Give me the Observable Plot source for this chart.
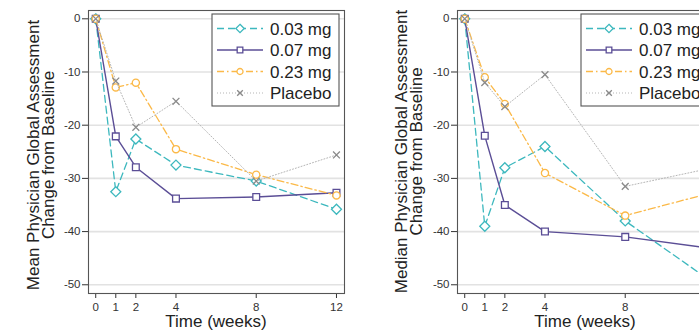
<!DOCTYPE html>
<html><head><meta charset="utf-8">
<script src="https://cdn.jsdelivr.net/npm/d3@7"></script>
<script src="https://cdn.jsdelivr.net/npm/@observablehq/plot@0.6"></script>
<style>
html,body{margin:0;padding:0;background:#fff;}
#wrap{position:relative;width:699px;height:331px;overflow:hidden;background:#fff;}
#left{position:absolute;left:0;top:0;width:350px;height:331px;}
#right{position:absolute;left:350px;top:0;width:370px;height:331px;}
#wrap svg{display:block;max-width:none !important;}
</style></head>
<body>
<div id="wrap"><div id="left"></div><div id="right"></div></div>
<script>
// ---- data ----
const weeks = [0, 1, 2, 4, 8, 12];
const xTicks = [0, 1, 2, 4, 8, 12];
const yTicks = [0, -10, -20, -30, -40, -50];
const seriesNames = ["0.03 mg", "0.07 mg", "0.23 mg", "Placebo"];

const mean003 = [0, -32.5, -22.6, -27.5, -30.5, -35.8];
const mean007 = [0, -22.1, -27.9, -33.8, -33.5, -32.7];
const mean023 = [0, -12.9, -12.0, -24.5, -29.3, -33.2];
const meanPlacebo = [0, -11.7, -20.4, -15.5, -30.5, -25.6];

const median003 = [0, -39, -28, -24, -38, -48.6];
const median007 = [0, -22, -35, -40, -41, -43];
const median023 = [0, -11, -16, -29, -37, -33];
const medianPlacebo = [0, -12, -16.5, -10.5, -31.5, -28.3];

const meanYLabel = ["Mean Physician Global Assessment", "Change from Baseline"];
const medianYLabel = ["Median Physician Global Assessment", "Change from Baseline"];
const xLabel = "Time (weeks)";

// ---- styles ----
const FONT = "'Liberation Sans', Arial, Helvetica, sans-serif";
const styles = [
  {color: "#3db8be", width: 1.3, dash: "7,4", symbol: "diamond2", r: 4.5},
  {color: "#5b4e96", width: 1.4, dash: null, symbol: "square2", r: 4.3},
  {color: "#fbb948", width: 1.3, dash: "7,3,1.5,3", symbol: "circle", r: 3.6},
  {color: "#b5b5b5", width: 1.0, dash: "1,2", symbol: "times", r: 3.2, markerColor: "#8a8a8a"}
];
const symbolMap = {diamond2: d3.symbolDiamond2, square2: d3.symbolSquare2, circle: d3.symbolCircle, times: d3.symbolTimes};

function toRows(arrays) {
  const rows = [];
  arrays.forEach((vals, i) => weeks.forEach((w, j) => rows.push({series: seriesNames[i], week: w, value: vals[j]})));
  return rows;
}

function panel(el, rows, yLabel, opts) {
  const {width, marginLeft, marginRight, labelX1, labelX2, labelCY} = opts;
  const marks = [
    Plot.ruleY(yTicks, {stroke: "#e2e2e2", strokeWidth: 1.6}),
    Plot.frame({stroke: "#555", strokeWidth: 1.1})
  ];
  seriesNames.forEach((name, i) => {
    const s = styles[i];
    const d = rows.filter(r => r.series === name);
    marks.push(Plot.line(d, {x: "week", y: "value", stroke: s.color, strokeWidth: s.width, strokeDasharray: s.dash}));
    marks.push(Plot.dot(d, {x: "week", y: "value", symbol: () => s.symbol, r: s.r, stroke: s.markerColor || s.color, strokeWidth: 1.3, fill: s.symbol === "times" ? "none" : "white"}));
  });
  const plot = Plot.plot({
    width, height: 331,
    marginLeft, marginRight, marginTop: 10, marginBottom: 38,
    style: {fontFamily: FONT, fontSize: "11.5px", color: "#333", background: "white", overflow: "visible", maxWidth: "none"},
    x: {domain: [-0.36, 12.4], ticks: xTicks, tickSize: 5, tickPadding: 4, label: null, tickFormat: d => String(d)},
    y: {domain: [-51.64, 1.56], ticks: yTicks, tickSize: 6, tickPadding: 2, label: null, tickFormat: d => String(d)},
    symbol: {type: "identity"},
    marks
  });
  el.appendChild(plot);
  const svg = d3.select(plot);
  const frameCX = marginLeft + (width - marginLeft - marginRight) / 2;
  // y label (two lines, rotated)
  [[yLabel[0], labelX1], [yLabel[1], labelX2]].forEach(([t, x]) => {
    svg.append("text")
      .attr("transform", `translate(${x},${labelCY}) rotate(-90)`)
      .attr("text-anchor", "middle")
      .attr("font-family", FONT).attr("font-size", 17).attr("fill", "#222")
      .text(t);
  });
  // x label
  svg.append("text")
    .attr("x", frameCX).attr("y", 327)
    .attr("text-anchor", "middle")
    .attr("font-family", FONT).attr("font-size", 17).attr("fill", "#222")
    .text(xLabel);
  // legend
  const g = svg.append("g").attr("transform", `translate(${marginLeft + 124},14)`);
  g.append("rect").attr("x", 0).attr("y", 0).attr("width", 127).attr("height", 92)
    .attr("fill", "white").attr("stroke", "#555").attr("stroke-width", 1.1);
  seriesNames.forEach((name, i) => {
    const s = styles[i];
    const y = 14.5 + i * 21.5;
    g.append("line").attr("x1", 5).attr("x2", 51).attr("y1", y).attr("y2", y)
      .attr("stroke", s.color).attr("stroke-width", s.width)
      .attr("stroke-dasharray", s.dash);
    g.append("path")
      .attr("transform", `translate(28,${y})`)
      .attr("d", d3.symbol(symbolMap[s.symbol], Math.PI * s.r * s.r * 0.7)())
      .attr("fill", s.symbol === "times" ? "none" : "white")
      .attr("stroke", s.markerColor || s.color).attr("stroke-width", 1.3);
    g.append("text").attr("x", 58).attr("y", y).attr("dy", "0.38em")
      .attr("text-anchor", "start")
      .attr("font-family", FONT).attr("font-size", 17).attr("fill", "#222")
      .text(name);
  });
}

panel(document.getElementById("left"),
  toRows([mean003, mean007, mean023, meanPlacebo]), meanYLabel,
  {width: 350, marginLeft: 88, marginRight: 6, labelX1: 39, labelX2: 54, labelCY: 155});
panel(document.getElementById("right"),
  toRows([median003, median007, median023, medianPlacebo]), medianYLabel,
  {width: 370, marginLeft: 107, marginRight: 7, labelX1: 56.5, labelX2: 71.5, labelCY: 151.5});
</script>
</body></html>
